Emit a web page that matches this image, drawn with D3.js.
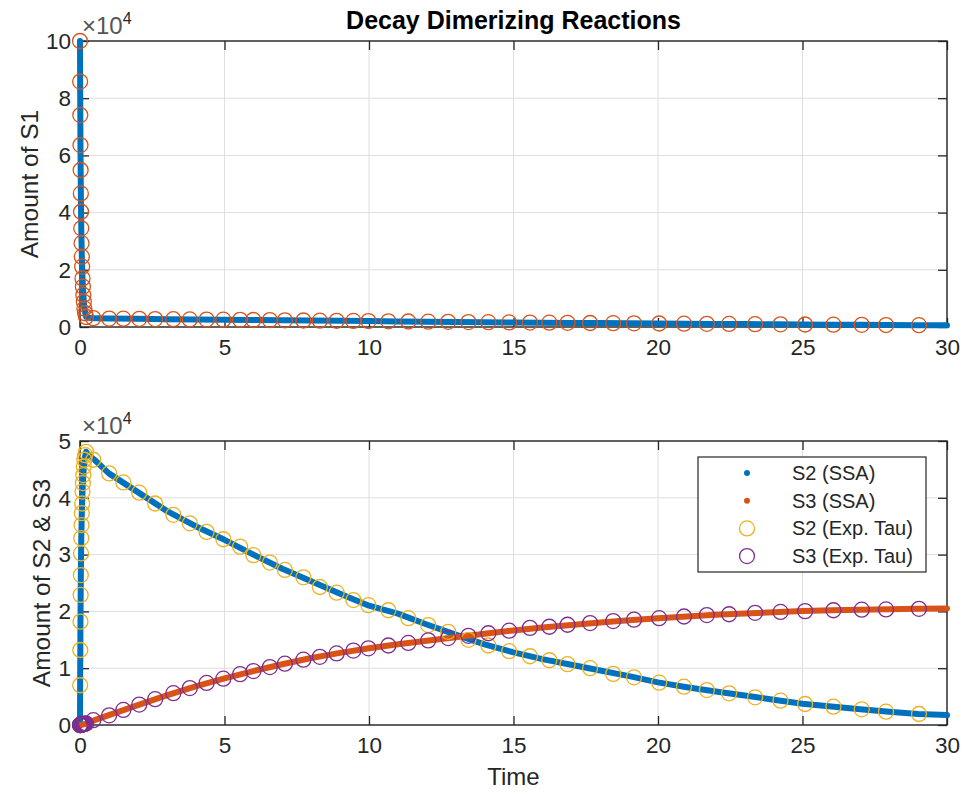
<!DOCTYPE html>
<html><head><meta charset="utf-8">
<script src="https://cdn.jsdelivr.net/npm/d3@7"></script>
<style>body{margin:0;background:#fff} svg{display:block} text{font-family:"Liberation Sans",Arial,Helvetica,sans-serif}</style>
</head><body><svg id="c" width="964" height="793"></svg>
<script>
// ---------- data ----------
const title = "Decay Dimerizing Reactions";
const xLabel = "Time";
const y1Label = "Amount of S1";
const y2Label = "Amount of S2 & S3";
const exponentLabel = "4";
const xTicks = [0,5,10,15,20,25,30];
const xTickLabels = ["0","5","10","15","20","25","30"];
const y1Ticks = [0,20000,40000,60000,80000,100000];
const y1TickLabels = ["0","2","4","6","8","10"];
const y2Ticks = [0,10000,20000,30000,40000,50000];
const y2TickLabels = ["0","1","2","3","4","5"];
const legendLabels = ["S2 (SSA)","S3 (SSA)","S2 (Exp. Tau)","S3 (Exp. Tau)"];

// SSA trajectories
const ssaTime = [0,0.005,0.016,0.029,0.044,0.063,0.087,0.115,0.152,0.21,0.3,0.5,
  1,2,3,4,5,6,7,8,9,10,11,12,13,14,15,16,17,18,19,20,21,22,23,24,25,26,27,28,29,30];
const ssaS1 = [100000,85800,63600,46700,34500,24600,17000,11200,6500,3500,3200,3100,
  2950,2850,2750,2650,2560,2450,2340,2250,2150,2060,1960,1870,1780,1680,1600,1510,1440,1370,1290,1220,1150,1090,1020,950,880,810,750,690,630,570];
const ssaS2 = [0,7000,18200,26400,32900,37300,41100,44000,46700,48100,47500,46700,
  44300,41000,37700,35000,32600,30000,27500,25300,23100,21000,19600,17700,15900,14200,12800,11600,10600,9600,8600,7500,6650,5900,5200,4450,3750,3250,2780,2330,1950,1750];
const ssaS3 = [0,0,0,0,10,30,60,100,150,230,350,850,
  1750,3500,5200,6800,8200,9500,10700,11800,12700,13500,14200,14850,15450,16050,16650,17150,17600,18050,18450,18800,19100,19400,19650,19850,20050,20200,20300,20400,20450,20500];

// Explicit tau-leaping trajectories
const tauTime = [0,0.005,0.01,0.016,0.022,0.029,0.036,0.044,0.053,0.063,0.074,0.087,0.1,0.115,0.132,0.152,0.176,0.21,
  0.46,1.01,1.5,2.05,2.6,3.23,3.8,4.38,4.96,5.54,6.0,6.57,7.09,7.73,8.3,8.88,9.46,9.98,10.67,11.36,12.05,12.74,13.44,14.13,14.85,
  15.57,16.24,16.87,17.65,18.45,19.17,20.04,20.9,21.69,22.46,23.36,24.24,25.09,26.07,27.05,27.89,29.03];
const tauS1 = [100000,85800,74100,63600,54900,46700,40300,34500,29300,24600,21100,17000,14100,11200,8800,6500,4800,3500,
  3100,2950,2900,2850,2780,2720,2650,2600,2560,2500,2450,2400,2330,2280,2220,2160,2110,2060,1990,1930,1870,1800,1730,1680,1610,
  1550,1500,1450,1400,1330,1280,1220,1160,1110,1060,1000,930,870,810,750,690,630];
const tauS2 = [0,7000,13200,18200,22900,26400,30200,32900,35200,37300,39000,41100,42600,44000,45500,46700,47500,48100,
  46700,44300,42700,40900,39000,37000,35500,34000,32700,31400,29900,28600,27300,26000,24300,23300,22000,21100,20200,18800,17600,16400,15000,14000,13000,
  12100,11400,10700,10000,9000,8400,7450,6750,6150,5580,4880,4280,3700,3220,2760,2340,1940];
const tauS3 = [0,0,0,0,10,20,30,40,50,60,80,100,120,140,170,200,230,280,
  850,1700,2650,3600,4550,5600,6500,7400,8150,8950,9500,10200,10800,11500,12000,12600,13100,13500,14000,14450,14900,15300,15700,16150,16600,
  17100,17300,17650,17950,18300,18550,18800,19100,19350,19500,19750,19900,20050,20200,20300,20350,20450];

// ---------- drawing ----------
const C = {blue:"#0072BD", orange:"#D95319", yellow:"#EDB120", purple:"#7E2F8E", ink:"#262626", grid:"#dedede"};
const svg = d3.select("#c");
const L = 80, R = 947;
const x = d3.scaleLinear().domain([0,30]).range([L,R]);
const y1 = d3.scaleLinear().domain([0,100000]).range([327,41]);
const y2 = d3.scaleLinear().domain([0,50000]).range([725,441]);
const TICK = 9, FS = 22.5;

function frame(y, yTicks, yLabs, top, bot) {
  const g = svg.append("g");
  g.selectAll(".gx").data(xTicks).join("line")
    .attr("x1", d=>x(d)).attr("x2", d=>x(d)).attr("y1", top).attr("y2", bot)
    .attr("stroke", C.grid).attr("stroke-width", 1);
  g.selectAll(".gy").data(yTicks).join("line")
    .attr("x1", L).attr("x2", R).attr("y1", d=>y(d)).attr("y2", d=>y(d))
    .attr("stroke", C.grid).attr("stroke-width", 1);
  const ax = [
    g.append("g").attr("transform",`translate(0,${bot})`).call(d3.axisBottom(x).tickValues(xTicks).tickFormat((d,i)=>xTickLabels[i]).tickSizeInner(-TICK).tickSizeOuter(0).tickPadding(12)),
    g.append("g").attr("transform",`translate(0,${top})`).call(d3.axisTop(x).tickValues(xTicks).tickFormat("").tickSizeInner(-TICK).tickSizeOuter(0)),
    g.append("g").attr("transform",`translate(${L},0)`).call(d3.axisLeft(y).tickValues(yTicks).tickFormat((d,i)=>yLabs[i]).tickSizeInner(-TICK).tickSizeOuter(0).tickPadding(9)),
    g.append("g").attr("transform",`translate(${R},0)`).call(d3.axisRight(y).tickValues(yTicks).tickFormat("").tickSizeInner(-TICK).tickSizeOuter(0))
  ];
  ax.forEach(a => {
    a.select(".domain").remove();
    a.selectAll("line").attr("stroke", C.ink).attr("stroke-width", 1.3);
    a.selectAll("text").attr("fill", C.ink).style("font-size", FS+"px").style("font-family", '"Liberation Sans",Arial,sans-serif');
  });
  g.append("rect").attr("x", L).attr("y", top).attr("width", R-L).attr("height", bot-top)
    .attr("fill","none").attr("stroke", C.ink).attr("stroke-width", 1.4);
  const ex = g.append("text").attr("x", L+2).attr("y", top-7).attr("fill", "#555").style("font-size", "24px");
  ex.append("tspan").text("\u00d710");
  ex.append("tspan").attr("dy", -10).style("font-size", "16px").attr("fill", C.ink).text(exponentLabel);
  return g;
}

function ssaLine(y, vals, color) {
  svg.append("path").datum(ssaTime.map((t,i)=>[t, vals[i]]))
    .attr("d", d3.line().x(d=>x(d[0])).y(d=>y(d[1])))
    .attr("fill","none").attr("stroke", color).attr("stroke-width", 6)
    .attr("stroke-linejoin","round").attr("stroke-linecap","round");
}
function tauCircles(y, vals, color) {
  svg.append("g").selectAll("circle").data(tauTime.map((t,i)=>[t, vals[i]])).join("circle")
    .attr("cx", d=>x(d[0])).attr("cy", d=>y(d[1])).attr("r", 7.5)
    .attr("fill","none").attr("stroke", color).attr("stroke-width", 1.3);
}

// top axes
frame(y1, y1Ticks, y1TickLabels, 41, 327);
ssaLine(y1, ssaS1, C.blue);
tauCircles(y1, tauS1, C.orange);

// bottom axes
frame(y2, y2Ticks, y2TickLabels, 441, 725);
ssaLine(y2, ssaS2, C.blue);
ssaLine(y2, ssaS3, C.orange);
tauCircles(y2, tauS2, C.yellow);
tauCircles(y2, tauS3, C.purple);

// titles and labels
svg.append("text").attr("x", (L+R)/2).attr("y", 29).attr("text-anchor","middle")
  .style("font-size","25px").style("font-weight","bold").attr("fill","#000").text(title);
svg.append("text").attr("x", (L+R)/2).attr("y", 785).attr("text-anchor","middle")
  .style("font-size","24px").attr("fill", C.ink).text(xLabel);
svg.append("text").attr("transform", `translate(38,${(41+327)/2}) rotate(-90)`).attr("text-anchor","middle")
  .style("font-size","24.5px").attr("fill", C.ink).text(y1Label);
svg.append("text").attr("transform", `translate(50,${(441+725)/2}) rotate(-90)`).attr("text-anchor","middle")
  .style("font-size","24.5px").attr("fill", C.ink).text(y2Label);

// legend
const lg = svg.append("g");
lg.append("rect").attr("x", 698).attr("y", 457).attr("width", 228).attr("height", 115)
  .attr("fill","#fff").attr("stroke", C.ink).attr("stroke-width", 1.2);
const legendRows = [
  {type:"dot", color:C.blue}, {type:"dot", color:C.orange},
  {type:"circle", color:C.yellow}, {type:"circle", color:C.purple}
];
legendRows.forEach((r,i) => {
  const cy = 473 + i*27.7;
  if (r.type === "dot") lg.append("circle").attr("cx", 747).attr("cy", cy).attr("r", 3).attr("fill", r.color);
  else lg.append("circle").attr("cx", 747).attr("cy", cy).attr("r", 7.5).attr("fill","none").attr("stroke", r.color).attr("stroke-width", 1.3);
  lg.append("text").attr("x", 792).attr("y", cy).attr("dy","0.35em").style("font-size","20px")
    .attr("fill", C.ink).text(legendLabels[i]);
});
</script>
</body></html>
